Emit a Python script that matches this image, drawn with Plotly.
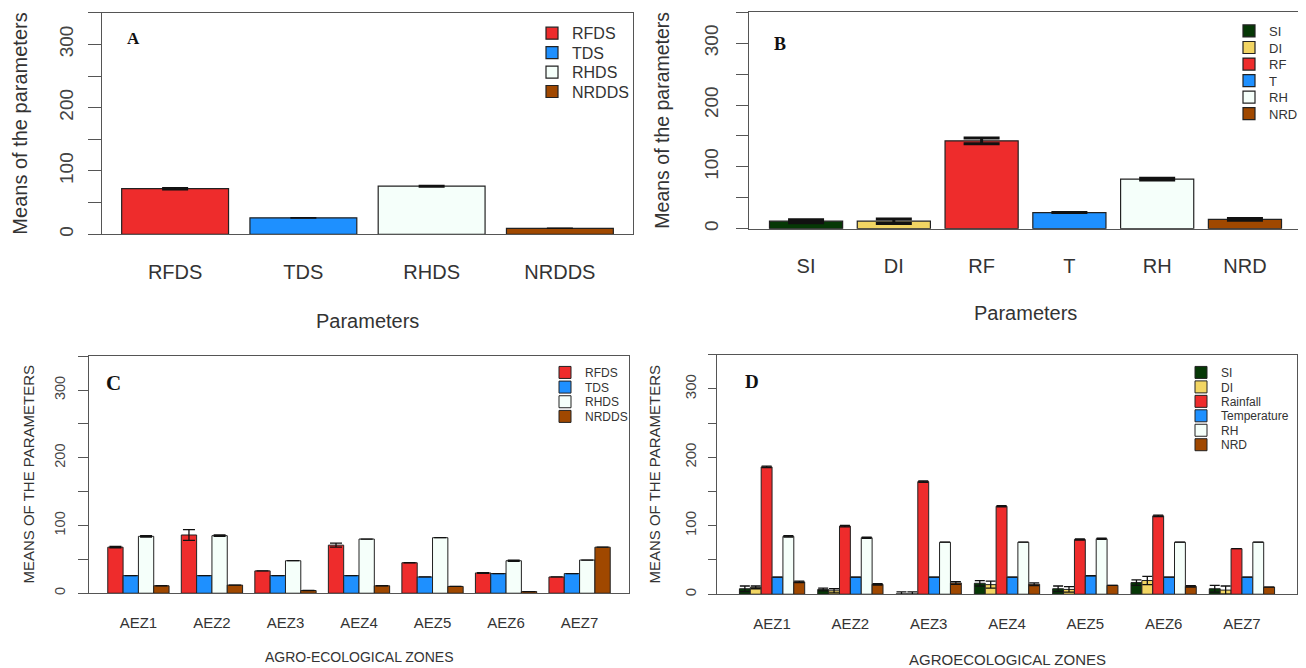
import plotly.graph_objects as go

# ---------------- data ----------------
A_cats = ["RFDS", "TDS", "RHDS", "NRDDS"]
A_vals = [72, 26, 76, 9.5]
A_err = [1.5, None, 1, None]

B_cats = ["SI", "DI", "RF", "T", "RH", "NRD"]
B_vals = [12, 12, 142, 26, 80, 15]
B_err = [2.5, 3.5, 4.5, None, 1.5, 1.5]

zones = ["AEZ1", "AEZ2", "AEZ3", "AEZ4", "AEZ5", "AEZ6", "AEZ7"]

C_names = ["RFDS", "TDS", "RHDS", "NRDDS"]
C_RFDS = [68, 86, 33, 71, 45, 30, 24]
C_RFDS_err = [1, 8, None, 3, None, 0.5, None]
C_TDS = [26, 26, 26, 26, 24, 29, 29]
C_TDS_err = [None] * 7
C_RHDS = [84, 85, 48, 80, 82, 48, 49]
C_RHDS_err = [1, 1, None, None, None, 1, None]
C_NRDDS = [11, 12, 4, 11, 10, 2.5, 68]
C_NRDDS_err = [None] * 7

D_names = ["SI", "DI", "Rainfall", "Temperature", "RH", "NRD"]
D_SI = [8, 7, 0.5, 16, 8, 17, 8]
D_SI_err = [4, 2, 3, 4, 4, 4, 5]
D_DI = [10, 5, 0.5, 14, 7, 20, 6]
D_DI_err = [2, 3, 3, 5, 4, 6, 6]
D_Rain = [186, 99.5, 164.5, 128.5, 80, 114.5, 66.5]
D_Rain_err = [1, 1, 1, 1, 1, 1, None]
D_Temp = [25, 25, 25, 25, 27, 25, 25]
D_Temp_err = [None] * 7
D_RH = [84.5, 82.5, 76, 76, 81, 76, 76]
D_RH_err = [1, 1, None, None, 1, None, None]
D_NRD = [18, 14.5, 16.5, 14.5, 13, 11.5, 10.5]
D_NRD_err = [1, 1, 2, 2, None, 1, None]

y_ticks = [0, 50, 100, 150, 200, 250, 300, 350]
y_ticktext = ["0", "", "100", "", "200", "", "300", ""]

# ---------------- style ----------------
RED = "#EE2C2C"
BLUE = "#1E90FF"
MINT = "#F5FFFA"
BROWN = "#A04800"
GREEN = "#063806"
GOLD = "#F2D563"
A_cols = [RED, BLUE, MINT, BROWN]
B_cols = [GREEN, GOLD, RED, BLUE, MINT, BROWN]
C_cols = [RED, BLUE, MINT, BROWN]
D_cols = [GREEN, GOLD, RED, BLUE, MINT, BROWN]

SANS = "Liberation Sans, Arial, sans-serif"
SERIF = "Liberation Serif, Times New Roman, serif"
OFF = 8  # page body margin
W, H = 1306 - OFF, 668 - OFF
LINE = "#555555"
OUT = "#222222"


def px(x):
    return (x - OFF) / W


def py(y):
    return 1 - (y - OFF) / H


fig = go.Figure()
legends = {}
leg_n = [0]


def new_legend(text_x, center_y, size, top_off):
    leg_n[0] += 1
    name = "legend" if leg_n[0] == 1 else "legend%d" % leg_n[0]
    legends[name] = dict(x=px(text_x - 40), y=py(center_y - top_off), xanchor="left", yanchor="top",
                         bgcolor="rgba(0,0,0,0)", font=dict(family=SANS, size=size, color="#333"))
    return name


# Panel A
for i, c in enumerate(A_cats):
    lg = new_legend(572, 33.3 + 19.5 * i, 16, 17)
    fig.add_trace(go.Bar(
        x=[A_cats[i]], y=[A_vals[i]], name=c, marker=dict(color=A_cols[i], line=dict(color=OUT, width=1.2)),
        error_y=dict(type="data", array=[A_err[i]], visible=True, color="#111", thickness=1.6, width=13),
        offsetgroup="a", xaxis="x", yaxis="y", legend=lg))

# Panel B
for i, c in enumerate(B_cats):
    lg = new_legend(1269, 31 + 16.6 * i, 13, 15)
    fig.add_trace(go.Bar(
        x=[B_cats[i]], y=[B_vals[i]], name=c, marker=dict(color=B_cols[i], line=dict(color=OUT, width=1.2)),
        error_y=dict(type="data", array=[B_err[i]], visible=True, color="#111", thickness=3, width=18),
        offsetgroup="b", xaxis="x2", yaxis="y2", legend=lg))

# Panel C
C_series = [(C_RFDS, C_RFDS_err), (C_TDS, C_TDS_err), (C_RHDS, C_RHDS_err), (C_NRDDS, C_NRDDS_err)]
for i, (vals, errs) in enumerate(C_series):
    lg = new_legend(585, 372 + 14.7 * i, 12, 13)
    fig.add_trace(go.Bar(
        x=zones, y=vals, name=C_names[i], marker=dict(color=C_cols[i], line=dict(color=OUT, width=1)),
        error_y=dict(type="data", array=errs, visible=True, color="#111", thickness=1.3, width=6),
        offsetgroup="c%d" % i, xaxis="x3", yaxis="y3", legend=lg))

# Panel D
D_series = [(D_SI, D_SI_err), (D_DI, D_DI_err), (D_Rain, D_Rain_err), (D_Temp, D_Temp_err),
            (D_RH, D_RH_err), (D_NRD, D_NRD_err)]
for i, (vals, errs) in enumerate(D_series):
    lg = new_legend(1221, 372 + 14.5 * i, 12, 13)
    fig.add_trace(go.Bar(
        x=zones, y=vals, name=D_names[i], marker=dict(color=D_cols[i], line=dict(color=OUT, width=1)),
        error_y=dict(type="data", array=errs, visible=True, color="#111", thickness=1.3, width=5),
        offsetgroup="d%d" % i, xaxis="x4", yaxis="y4", legend=lg))


def xax(dom, rng, size, standoff):
    return dict(domain=[px(dom[0]), px(dom[1])], type="category", range=rng, showline=True, mirror=True,
                linecolor=LINE, linewidth=1.3, ticks="", showgrid=False, zeroline=False,
                tickfont=dict(family=SANS, size=size, color="#333"), ticklabelstandoff=int(standoff))


def yax(dom, anchor, size, ticklen, standoff):
    return dict(domain=[py(dom[1]), py(dom[0])], range=[0, 350], anchor=anchor, showline=True, mirror=True,
                linecolor=LINE, linewidth=1.3, ticks="outside", ticklen=ticklen, tickcolor=LINE, tickwidth=1.3,
                tickvals=y_ticks, ticktext=y_ticktext, tickangle=-90, showgrid=False, zeroline=False,
                tickfont=dict(family=SANS, size=size, color="#444"), ticklabelstandoff=int(standoff))


layout = dict(
    width=W, height=H, margin=dict(l=0, r=0, t=0, b=0), paper_bgcolor="white", plot_bgcolor="white",
    barmode="group", bargroupgap=0, bargap=0.1667, showlegend=True,
    xaxis=xax((102, 633), [-0.57, 3.57], 20, 20) | dict(anchor="y"),
    yaxis=yax((12.7, 235), "x", 19, 13, 7),
    xaxis2=xax((749, 1302), [-0.65, 5.65], 20, 19) | dict(anchor="y2"),
    yaxis2=yax((12.3, 229.3), "x2", 19, 12, 10),
    xaxis3=xax((89, 629), [-0.672, 6.672], 15, 16) | dict(anchor="y3"),
    yaxis3=yax((357.3, 595), "x3", 14.5, 10, 7),
    xaxis4=xax((717, 1297), [-0.703, 6.703], 15, 16) | dict(anchor="y4"),
    yaxis4=yax((355.7, 596), "x4", 15, 8, 6),
)
layout.update(legends)
fig.update_layout(**layout)


def ann(text, x, y, size, angle=0, family=SANS, color="#333"):
    fig.add_annotation(text=text, x=px(x), y=py(y), xref="paper", yref="paper", showarrow=False,
                       textangle=angle, font=dict(family=family, size=size, color=color),
                       xanchor="center", yanchor="middle")


ann("Parameters", 367.5, 322, 20)
ann("Parameters", 1025.5, 314, 20)
ann("AGRO-ECOLOGICAL ZONES", 359, 659, 14)
ann("AGROECOLOGICAL ZONES", 1007, 661, 15)
ann("Means of the parameters", 20, 124, 20, -90)
ann("Means of the parameters", 662, 121, 19.5, -90)
ann("MEANS OF THE PARAMETERS", 29, 476, 15, -90)
ann("MEANS OF THE PARAMETERS", 655, 476, 15, -90)
ann("<b>A</b>", 133, 39, 17, family=SERIF, color="#111")
ann("<b>B</b>", 780, 44, 18, family=SERIF, color="#111")
ann("<b>C</b>", 114, 384, 21, family=SERIF, color="#111")
ann("<b>D</b>", 752, 383, 19, family=SERIF, color="#111")

fig.write_html("out.html")
